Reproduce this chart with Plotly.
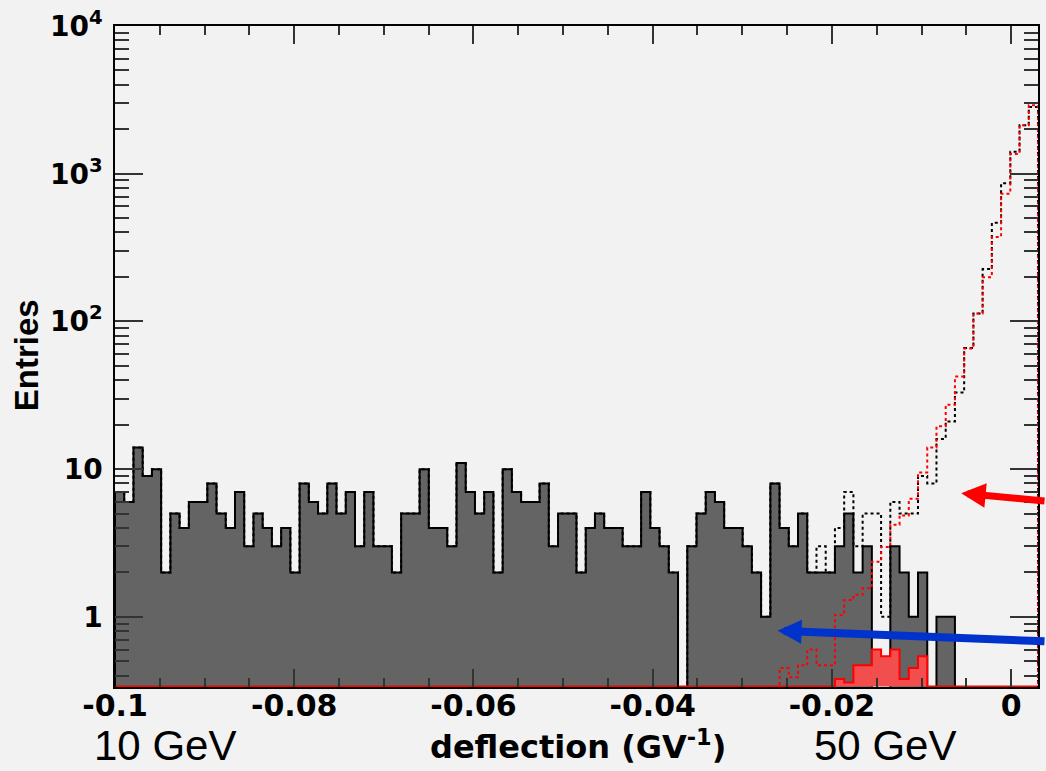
import numpy as np
import plotly.graph_objects as go

# ---------------- data ----------------
x_min, x_max, n_bins = -0.1, 0.003, 100

# gray filled histogram (selected events)
gray_counts = [7, 6, 14, 9, 10, 2, 5, 4, 6, 6,
               8, 5, 4, 7, 3, 5, 4, 3, 4, 2,
               8, 6, 5, 8, 5, 7, 3, 7, 3, 3,
               2, 5, 5, 10, 4, 4, 3, 11, 7, 5,
               7, 2, 10, 7, 6, 6, 8, 3, 5, 5,
               2, 4, 5, 4, 4, 3, 3, 7, 4, 3,
               2, 0, 3, 5, 7, 6, 4, 4, 3, 2,
               1, 8, 4, 3, 5, 2, 2, 2, 3, 5,
               2, 3, 0, 0, 3, 2, 1, 2, 0, 1,
               1, 0, 0, 0, 0, 0, 0, 0, 0, 0]

# black dotted histogram (all events); bins 0..75 equal to gray
black_tail = [3, 2, 4, 7, 3, 5, 5, 1, 6, 5,
              5, 9, 8, 16, 21, 33, 66, 113, 226, 465,
              863, 1410, 2127, 2827]
black_counts = gray_counts[:76] + black_tail

# red dotted histogram (simulation)
red_dotted = [0] * 71 + [0.3, 0.45, 0.39, 0.47, 0.60, 0.47, 0.47, 1.03, 1.3,
                         1.41, 1.56, 2.36, 2.97, 4.2, 4.86, 6.3, 9.5, 14.0, 19.5,
                         27.3, 42.4, 65.6, 113, 199, 373, 732, 1358, 2127, 2907]

# red filled histogram
red_filled = [0] * 78 + [0.38, 0.36, 0.47, 0.47, 0.60, 0.54, 0.60, 0.38, 0.45, 0.54] + [0] * 12

y_tick_vals = [1, 10, 100, 1000, 10000]
y_tick_text = ["1", "10", "10<sup>2</sup>", "10<sup>3</sup>", "10<sup>4</sup>"]
x_tick_vals = [-0.1, -0.08, -0.06, -0.04, -0.02, 0]
x_tick_text = ["-0.1", "-0.08", "-0.06", "-0.04", "-0.02", "0"]

# ---------------- helpers ----------------
edges = np.linspace(x_min, x_max, n_bins + 1)
y_lo = 0.335


def step_path(vals, floor):
    xs, ys = [edges[0]], [floor]
    for i, v in enumerate(vals):
        vv = max(v, floor)
        xs += [edges[i], edges[i + 1]]
        ys += [vv, vv]
    xs.append(edges[-1])
    ys.append(floor)
    return xs, ys


fig = go.Figure()

gx, gy = step_path(gray_counts, 0.1)
fig.add_trace(go.Scatter(x=gx, y=gy, mode="lines", fill="toself",
                         fillcolor="#646464", line=dict(width=0),
                         hoverinfo="skip", showlegend=False))
fig.add_trace(go.Scatter(x=gx, y=gy, mode="lines",
                         line=dict(color="black", width=2),
                         hoverinfo="skip", showlegend=False))

rx, ry = step_path(red_filled, 0.338)
fig.add_trace(go.Scatter(x=rx, y=ry, mode="lines", fill="toself",
                         fillcolor="rgb(242,78,78)",
                         line=dict(color="#ff0000", width=2),
                         hoverinfo="skip", showlegend=False))

bx, by = step_path(black_counts, 0.1)
fig.add_trace(go.Scatter(x=bx, y=by, mode="lines",
                         line=dict(color="black", width=2, dash="dot"),
                         hoverinfo="skip", showlegend=False))

dx, dy = step_path(red_dotted, 0.1)
fig.add_trace(go.Scatter(x=dx, y=dy, mode="lines",
                         line=dict(color="#ff0000", width=2, dash="dot"),
                         hoverinfo="skip", showlegend=False))

# ---------------- layout ----------------
L, R, T, B = 115, 6, 22, 84
W, H = 1046, 771
pw, ph = W - L - R, H - T - B


def px2paper(px, py):
    return (px - L) / pw, (H - B - py) / ph


minor_y = [m * 10 ** d for d in range(-1, 4) for m in range(2, 10) if m * 10 ** d >= 0.35]

fig.update_layout(
    width=W, height=H,
    margin=dict(l=L, r=R, t=T, b=B),
    paper_bgcolor="#f2f2f2", plot_bgcolor="#f2f2f2",
    xaxis=dict(range=[x_min, x_max], showgrid=False, zeroline=False,
               showline=True, linecolor="black", linewidth=1.5, mirror="allticks",
               ticks="inside", ticklen=18, tickwidth=1.5, tickcolor="#333",
               tickmode="array", tickvals=x_tick_vals, ticktext=x_tick_text,
               ticklabelstandoff=-9,
               tickfont=dict(family="DejaVu Sans", size=30, color="black", weight="bold"),
               minor=dict(ticks="inside", ticklen=9, tickwidth=1.5, tickcolor="#333",
                          dtick=0.005, tick0=0, showgrid=False)),
    yaxis=dict(type="log", range=[np.log10(y_lo), 4], showgrid=False, zeroline=False,
               showline=True, linecolor="black", linewidth=1.5, mirror="allticks",
               ticks="inside", ticklen=28, tickwidth=1.5, tickcolor="#333",
               tickmode="array", tickvals=y_tick_vals, ticktext=y_tick_text,
               ticklabelstandoff=5,
               tickfont=dict(family="DejaVu Sans", size=28, color="black", weight="bold"),
               minor=dict(ticks="inside", ticklen=14, tickwidth=1.5, tickcolor="#333",
                          tickmode="array", tickvals=minor_y, showgrid=False)),
)

ann = []
tx, ty = px2paper(963, 492)
ann.append(dict(x=tx, y=ty, xref="paper", yref="paper", ax=88, ay=8,
                axref="pixel", ayref="pixel", showarrow=True, text="",
                arrowhead=2, arrowsize=0.7, arrowwidth=7, arrowcolor="#ff0000"))
tx, ty = px2paper(779, 630.5)
ann.append(dict(x=tx, y=ty, xref="paper", yref="paper", ax=272, ay=10.5,
                axref="pixel", ayref="pixel", showarrow=True, text="",
                arrowhead=2, arrowsize=0.6, arrowwidth=8, arrowcolor="#0033cc"))

for label, cx in (("10 GeV", 165), ("50 GeV", 887)):
    ax_, ay_ = px2paper(cx, 746)
    ann.append(dict(x=ax_, y=ay_, xref="paper", yref="paper", text=label,
                    showarrow=False, xanchor="center", yanchor="middle",
                    font=dict(family="Liberation Sans", size=42, color="black")))

ax_, ay_ = px2paper(579, 745)
ann.append(dict(x=ax_, y=ay_, xref="paper", yref="paper",
                text="deflection (GV<sup>-1</sup>)", showarrow=False,
                xanchor="center", yanchor="middle",
                font=dict(family="DejaVu Sans", size=32, color="black", weight="bold")))

ax_, ay_ = px2paper(26, 353)
ann.append(dict(x=ax_, y=ay_, xref="paper", yref="paper", text="Entries",
                showarrow=False, textangle=-90, xanchor="center", yanchor="middle",
                font=dict(family="Liberation Sans", size=33,
                          color="black", weight="bold")))

fig.update_layout(annotations=ann)
fig.write_html("out.html")
